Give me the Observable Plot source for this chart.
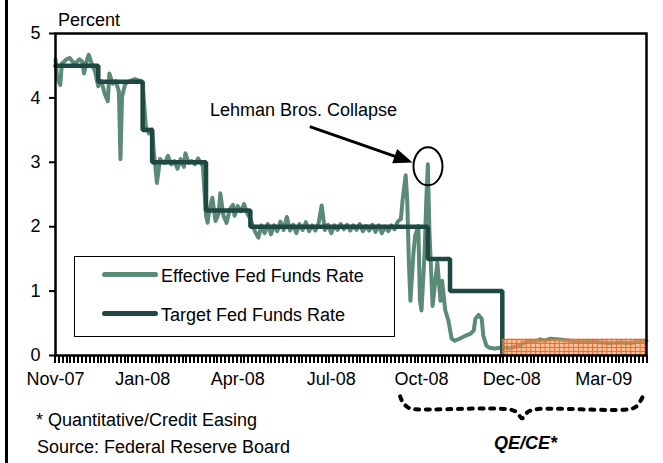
<!DOCTYPE html>
<html>
<head>
<meta charset="utf-8">
<script src="https://cdn.jsdelivr.net/npm/d3@7"></script>
<script src="https://cdn.jsdelivr.net/npm/@observablehq/plot@0.6"></script>
<style>
  html, body { margin: 0; padding: 0; background: #fff; }
  #wrap { position: relative; width: 663px; height: 463px; overflow: hidden; font-family: "Liberation Sans", Arial, sans-serif; color: #000; }
  #wrap .t { position: absolute; font-size: 18px; line-height: 18px; white-space: nowrap; }
  #frameLeft { position: absolute; left: 5px; top: 0; width: 3px; height: 463px; background: #000; }
  #legend { position: absolute; left: 74px; top: 256px; width: 319px; height: 79px; border: 1px solid #000; background: #fff; }
  .lg { position: absolute; left: 27px; width: 56px; height: 5px; border-radius: 3px; }
</style>
</head>
<body>
<div id="wrap">
  <div id="chart"></div>
  <div id="frameLeft"></div>
  <div class="t" style="left:58px; top:11px;">Percent</div>
  <div class="t" style="left:210px; top:101px;">Lehman Bros. Collapse</div>
  <div id="legend">
    <div class="lg" id="lgEff" style="top:15px;"></div>
    <div class="t" style="left:86px; top:10px;">Effective Fed Funds Rate</div>
    <div class="lg" id="lgTgt" style="top:54px;"></div>
    <div class="t" style="left:86px; top:49px;">Target Fed Funds Rate</div>
  </div>
  <div class="t" style="left:36px; top:411px;">* Quantitative/Credit Easing</div>
  <div class="t" style="left:37px; top:438px;">Source: Federal Reserve Board</div>
  <div class="t" style="left:494px; top:434px; font-weight:bold; font-style:italic;">QE/CE*</div>
</div>
<script>
// ---- data (x = business-day index from Nov 1, 2007) ----
const effDay = [0,1,3,4,7,9,12,15,17,18,20,21,23,25,26,27,29,31,33,34,36,38,40,41,42,44,47,50,54,55,
  57,59,61,62,63,64,66,67,69,71,73,75,77,79,81,82,84,86,88,90,91,93,
  95,96,97,99,101,103,104,106,108,110,112,113,115,117,119,121,123,
  124,126,128,130,132,134,136,138,140,142,144,146,148,150,152,154,156,158,160,162,164,166,168,170,172,174,176,178,180,182,184,186,188,190,192,194,196,198,200,202,204,206,208,210,212,214,216,218,219,
  221,222,223,224,226,227,229,230,231,233,234,235,236,238,239,241,243,244,246,248,250,252,255,259,262,264,265,267,269,270,272,274,277,281,
  284,287,290,293,296,300,303,306,309,312,318,325,331,337,344,350,356,363,369,373];
const effRate = [4.60,4.33,4.20,4.53,4.60,4.62,4.52,4.60,4.56,4.38,4.60,4.67,4.52,4.41,4.29,4.18,4.26,4.07,3.95,4.38,4.22,4.26,4.10,3.05,4.02,4.22,4.26,4.29,4.26,4.22,
  3.56,3.45,3.51,3.17,2.94,2.68,3.05,3.02,2.99,3.10,2.97,3.02,2.90,3.05,2.93,3.14,2.99,3.02,2.97,3.06,3.02,2.94,
  2.17,2.06,2.24,2.45,2.09,2.21,2.52,2.17,2.06,2.27,2.34,2.17,2.32,2.24,2.35,2.21,2.12,
  2.05,1.92,1.83,2.02,1.90,2.04,1.88,2.02,1.93,2.08,1.95,2.15,1.94,2.03,1.90,2.04,1.95,2.07,1.93,2.02,1.94,2.05,2.33,1.95,2.03,1.90,2.02,1.95,2.04,1.96,2.03,1.94,2.02,1.95,2.04,1.93,2.01,1.94,2.03,1.92,2.02,1.90,2.00,1.93,2.02,1.96,2.08,2.12,2.40,
  2.80,2.40,1.47,0.85,1.62,1.86,2.01,0.85,0.70,1.62,2.40,2.97,1.93,0.77,1.00,1.44,0.85,1.16,0.70,0.54,0.26,0.23,0.26,0.31,0.34,0.39,0.57,0.63,0.57,0.31,0.15,0.12,0.11,0.12,
  0.12,0.11,0.14,0.15,0.20,0.23,0.22,0.25,0.23,0.26,0.25,0.23,0.22,0.22,0.20,0.19,0.20,0.19,0.22,0.23];

const tgtDay  = [0, 27, 55, 61, 95, 123, 235, 249, 282];
const tgtRate = [4.5, 4.25, 3.5, 3.0, 2.25, 2.0, 1.5, 1.0, 0];

// QE/CE target range band (0 - 0.25%)
const bandDays = [282, 373];
const bandRange = [0, 0.25];

const yTicks = [0, 1, 2, 3, 4, 5];
const xLabelDays = [0, 55, 115, 174, 231, 288, 346];
const xLabels = ["Nov-07", "Jan-08", "Apr-08", "Jul-08", "Oct-08", "Dec-08", "Mar-09"];

// annotations (data coordinates)
const lehmanPeak = {day: 235.4, rate: 2.93};
const arrowFrom = {day: 160.8, rate: 3.545};
const arrowTo = {day: 225.7, rate: 2.99};
const braceSpan = [217.5, 294.5, 370.7]; // left end, tip, right end

// ---- styles ----
const effColor = "#5b8b77";
const tgtColor = "#1f4842";
document.getElementById("lgEff").style.background = effColor;
document.getElementById("lgTgt").style.background = tgtColor;

const eff = effDay.map((d, i) => ({day: d, rate: effRate[i]}));
const tgt = tgtDay.map((d, i) => ({day: d, rate: tgtRate[i]}));
const labelMap = new Map(xLabelDays.map((d, i) => [d, xLabels[i]]));
const minorTicks = d3.range(0, 373.5, 2.44);
const bandGridX = d3.range(bandDays[0] + 3, bandDays[1], 3);
const bandGridY = [0.0625, 0.125, 0.1875];

const [bL, bT, bR] = braceSpan;
const brace = [
  [bL, -0.635], [bL + 2, -0.74], [bL + 6, -0.82], [bL + 9.5, -0.836],
  [bT - 8.5, -0.836], [bT - 3.5, -0.88], [bT, -0.975], [bT + 3.5, -0.88], [bT + 8.5, -0.836],
  [bR - 9.5, -0.836], [bR - 4, -0.79], [bR, -0.635]
].map(([day, rate]) => ({day, rate}));

const svgNS = "http://www.w3.org/2000/svg";
function minorTickMark(index, scales) {
  const g = document.createElementNS(svgNS, "g");
  const y0 = Math.round(scales.y(0));
  for (const v of minorTicks) {
    const r = document.createElementNS(svgNS, "rect");
    r.setAttribute("x", Math.round(scales.x(v)) - 1);
    r.setAttribute("y", y0);
    r.setAttribute("width", 2);
    r.setAttribute("height", 8);
    r.setAttribute("fill", "#000");
    g.append(r);
  }
  return g;
}
function ellipseMark(index, scales) {
  const e = document.createElementNS(svgNS, "ellipse");
  e.setAttribute("cx", scales.x(lehmanPeak.day));
  e.setAttribute("cy", scales.y(lehmanPeak.rate));
  e.setAttribute("rx", 14.5);
  e.setAttribute("ry", 19);
  e.setAttribute("fill", "none");
  e.setAttribute("stroke", "#000");
  e.setAttribute("stroke-width", 2);
  return e;
}
function arrowMark(index, scales) {
  const g = document.createElementNS(svgNS, "g");
  const x1 = scales.x(arrowFrom.day), y1 = scales.y(arrowFrom.rate);
  const x2 = scales.x(arrowTo.day), y2 = scales.y(arrowTo.rate);
  const a = Math.atan2(y2 - y1, x2 - x1), L = 19, W = 7.5;
  const bx = x2 - L * Math.cos(a), by = y2 - L * Math.sin(a);
  const line = document.createElementNS(svgNS, "line");
  line.setAttribute("x1", x1); line.setAttribute("y1", y1);
  line.setAttribute("x2", bx + 2 * Math.cos(a)); line.setAttribute("y2", by + 2 * Math.sin(a));
  line.setAttribute("stroke", "#000"); line.setAttribute("stroke-width", 3);
  const p = document.createElementNS(svgNS, "polygon");
  const px = -Math.sin(a), py = Math.cos(a);
  p.setAttribute("points", `${x2},${y2} ${bx + W * px},${by + W * py} ${bx - W * px},${by - W * py}`);
  p.setAttribute("fill", "#000");
  g.append(line, p);
  return g;
}

const chart = Plot.plot({
  width: 663,
  height: 463,
  marginLeft: 55,
  marginRight: 17,
  marginTop: 33,
  marginBottom: 108,
  x: {domain: [0, 373]},
  y: {domain: [0, 5]},
  style: {fontFamily: '"Liberation Sans", Arial, sans-serif', fontSize: "18px", color: "#000", background: "transparent", overflow: "visible"},
  marks: [
    Plot.line(eff, {x: "day", y: "rate", stroke: effColor, strokeWidth: 4, strokeLinejoin: "round", strokeLinecap: "round"}),
    Plot.line(tgt, {x: "day", y: "rate", curve: "step-after", stroke: tgtColor, strokeWidth: 4.5, strokeLinejoin: "miter"}),
    Plot.rect([0], {x1: bandDays[0], x2: bandDays[1], y1: bandRange[0], y2: bandRange[1], fill: "#f7985a", fillOpacity: 0.6}),
    Plot.ruleX(bandGridX, {y1: bandRange[0], y2: bandRange[1], stroke: "#ef6a1c", strokeWidth: 1}),
    Plot.ruleY(bandGridY, {x1: bandDays[0], x2: bandDays[1], stroke: "#ef6a1c", strokeWidth: 1}),
    Plot.ruleY([bandRange[1]], {x1: bandDays[0], x2: bandDays[1], stroke: "#ef6a1c", strokeWidth: 1.2}),
    Plot.frame({stroke: "#000", strokeWidth: 2.5}),
    Plot.axisY(yTicks, {tickSize: 6, tickPadding: 9, strokeWidth: 2, fontSize: 18, label: null, tickFormat: d => String(d)}),
    minorTickMark,
    Plot.axisX(xLabelDays, {tickSize: 0, tickPadding: 17, fontSize: 18, label: null, tickFormat: d => labelMap.get(d)}),
    Plot.line(brace, {x: "day", y: "rate", curve: "catmull-rom", stroke: "#000", strokeWidth: 4, strokeDasharray: "4,6.7"}),
    ellipseMark,
    arrowMark
  ]
});
document.getElementById("chart").append(chart);
</script>
</body>
</html>
